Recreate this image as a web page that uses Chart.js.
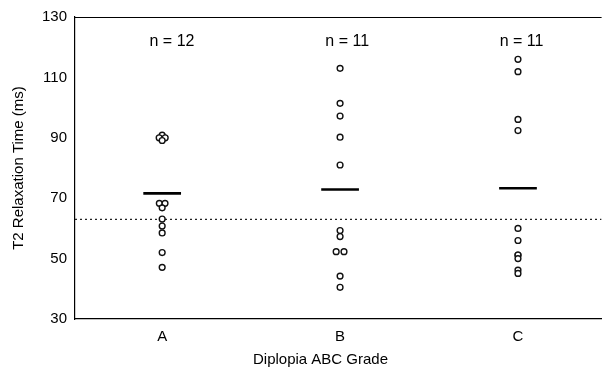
<!DOCTYPE html>
<html>
<head>
<meta charset="utf-8">
<script src="https://cdn.jsdelivr.net/npm/chart.js@4.4.1/dist/chart.umd.min.js"></script>
<style>
  html, body { margin: 0; padding: 0; background: #fff; overflow: hidden; }
  #wrap { width: 607px; height: 369px; position: relative; }
</style>
</head>
<body>
<div id="wrap"><canvas id="t2Chart"></canvas></div>
<script>
const categories = ['A', 'B', 'C'];
const nLabels = ['n = 12', 'n = 11', 'n = 11'];
const xTitle = 'Diplopia ABC Grade';

// T2 relaxation times (ms); jitter is the small sideways spread
const gradeA = [90.9, 90, 90, 89.1, 68.3, 68.3, 66.8, 63.1, 60.8, 58.5, 52.0, 47.1];
const jitterA = [0, -0.017, 0.017, 0, -0.016, 0.016, 0, 0, 0, 0, 0, 0];
const gradeB = [113.0, 101.4, 97.2, 90.2, 81.0, 59.3, 57.3, 52.3, 52.3, 44.2, 40.5];
const jitterB = [0, 0, 0, 0, 0, 0, 0, -0.022, 0.022, 0, 0];
const gradeC = [116.0, 111.9, 96.1, 92.4, 60.0, 56.0, 51.2, 51.2, 50.0, 46.2, 45.1];
const jitterC = [0, 0, 0, 0, 0, 0, 0, 0, 0, 0, 0];

const means = [71.6, 72.9, 73.3];
const threshold = 63;
const yTicks = [30, 50, 70, 90, 110, 130];

const groups = [gradeA, gradeB, gradeC];
const jitters = [jitterA, jitterB, jitterC];
const meanHalf = 0.106;
const xMin = 0.51, xMax = 3.47;

const FONT = "'Liberation Sans', Arial, sans-serif";

const datasets = [];

groups.forEach((vals, g) => {
    datasets.push({
        type: 'scatter',
        label: 'Grade ' + categories[g],
        data: vals.map((v, i) => ({ x: g + 1 + jitters[g][i], y: v })),
        pointStyle: 'circle',
        pointRadius: 2.9,
        pointBorderWidth: 1.4,
        pointBorderColor: '#111',
        pointBackgroundColor: '#fff',
        showLine: false,
        order: 1,
    });
});

means.forEach((m, g) => {
    datasets.push({
        type: 'line',
        label: 'Mean ' + categories[g],
        data: [{ x: g + 1 - meanHalf, y: m }, { x: g + 1 + meanHalf, y: m }],
        borderColor: '#000',
        borderWidth: 2.6,
        pointRadius: 0,
        fill: false,
        order: 2,
    });
});

datasets.push({
    type: 'line',
    label: 'Threshold',
    data: [{ x: xMin, y: threshold }, { x: xMax, y: threshold }],
    borderColor: '#222',
    borderWidth: 1.2,
    borderDash: [2, 3],
    pointRadius: 0,
    fill: false,
    order: 3,
});

// top frame line, "n =" labels and the x title (set a little left of centre, as in the original)
const extras = {
    id: 'extras',
    afterDatasetsDraw(chart) {
        const { ctx, chartArea, scales } = chart;
        ctx.save();
        ctx.strokeStyle = '#000';
        ctx.lineWidth = 1.2;
        ctx.beginPath();
        ctx.moveTo(chartArea.left, chartArea.top + 0.5);
        ctx.lineTo(chartArea.right, chartArea.top + 0.5);
        ctx.stroke();

        ctx.fillStyle = '#000';
        ctx.font = '16px ' + FONT;
        ctx.textAlign = 'center';
        ctx.textBaseline = 'middle';
        const shift = [0.055, 0.04, 0.02];
        nLabels.forEach((t, i) => {
            ctx.fillText(t, scales.x.getPixelForValue(i + 1 + shift[i]), scales.y.getPixelForValue(121.7));
        });

        ctx.font = '15px ' + FONT;
        ctx.fillText(xTitle, scales.x.getPixelForValue(1.89), chartArea.bottom + 41);
        ctx.restore();
    }
};

const ctx = document.getElementById('t2Chart').getContext('2d');
new Chart(ctx, {
    data: { datasets: datasets },
    plugins: [extras],
    options: {
        responsive: true,
        maintainAspectRatio: false,
        animation: false,
        layout: { padding: { top: 17, right: 0, left: 0, bottom: 0 } },
        plugins: {
            legend: { display: false },
            tooltip: { enabled: false },
        },
        scales: {
            x: {
                type: 'linear',
                min: xMin,
                max: xMax,
                afterBuildTicks: (axis) => { axis.ticks = categories.map((c, i) => ({ value: i + 1 })); },
                afterFit: (axis) => { axis.height = 50; },
                ticks: {
                    callback: (v) => categories[v - 1],
                    color: '#000',
                    font: { family: FONT, size: 15 },
                    padding: 9,
                    maxRotation: 0,
                },
                grid: { display: false, drawTicks: false },
                border: { display: true, color: '#000', width: 1.2 },
            },
            y: {
                type: 'linear',
                min: 30,
                max: 130,
                afterBuildTicks: (axis) => { axis.ticks = yTicks.map(v => ({ value: v })); },
                afterFit: (axis) => { axis.width = 75; },
                ticks: {
                    color: '#000',
                    font: { family: FONT, size: 15 },
                    padding: 8,
                },
                grid: { display: false, drawTicks: false },
                border: { display: true, color: '#000', width: 1.2 },
                title: {
                    display: true,
                    text: 'T2 Relaxation Time (ms)',
                    color: '#000',
                    font: { family: FONT, size: 15 },
                    padding: { top: 10, bottom: 0 },
                },
            },
        },
    },
});
</script>
</body>
</html>
